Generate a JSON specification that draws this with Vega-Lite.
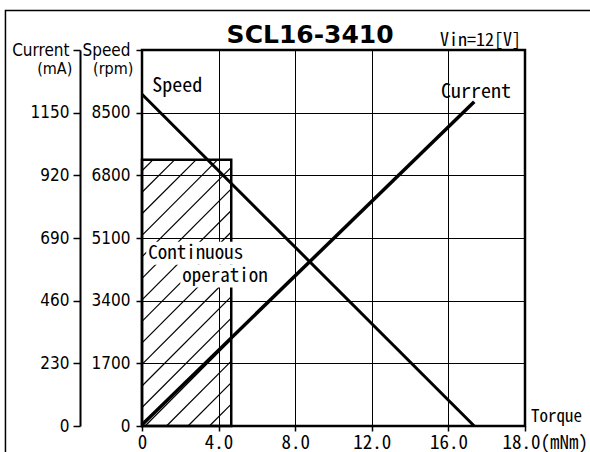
{
  "$schema": "https://vega.github.io/schema/vega-lite/v6.json",
  "width": 383,
  "height": 376,
  "autosize": {"type": "none"},
  "padding": {"left": 142, "top": 50, "right": 65, "bottom": 26},
  "background": "white",
  "config": {"view": {"stroke": "black", "strokeWidth": 2.5}},
  "encoding": {
    "x": {
      "field": "t", "type": "quantitative",
      "scale": {"domain": [0, 20], "nice": false, "zero": false},
      "axis": {
        "values": [0, 4, 8, 12, 16, 20], "title": null,
        "grid": true, "gridColor": "black", "gridWidth": 1, "gridOpacity": 1,
        "domain": false, "tickColor": "black", "tickSize": 5, "tickWidth": 1.5,
        "labelFlush": false, "labelFont": "Noto Sans Mono CJK JP, DejaVu Sans Mono, monospace",
        "labelFontSize": 19, "labelColor": "black", "labelPadding": 2,
        "labelExpr": "datum.value == 0 ? '0' : datum.value == 20 ? '18.0(mNm)' : format(datum.value, '.1f')",
        "labelAlign": {"condition": {"test": "datum.value == 20", "value": "left"}, "value": "center"},
        "labelOffset": {"condition": {"test": "datum.value == 20", "value": -23}, "value": 0}
      }
    }
  },
  "layer": [
    {
      "encoding": {
        "y": {
          "field": "s", "type": "quantitative",
          "scale": {"domain": [0, 10200], "nice": false, "zero": false},
          "axis": {
            "values": [0, 1700, 3400, 5100, 6800, 8500, 10200], "title": null,
            "grid": true, "gridColor": "black", "gridWidth": 1, "gridOpacity": 1,
            "domain": false, "tickColor": "black", "tickSize": 6, "tickWidth": 1.5,
            "labelFont": "Liberation Sans Narrow, DejaVu Sans Condensed, Liberation Sans, sans-serif",
            "labelFontSize": 17, "labelColor": "black", "labelPadding": 6, "format": "d",
            "labelExpr": "datum.value == 10200 ? 'Speed' : datum.label"
          }
        }
      },
      "layer": [
        {
          "data": {"values": [{"t": -7.13, "t2": 32, "s": -3000, "s2": 11270}]},
          "mark": {"type": "rect", "fillOpacity": 0, "stroke": "black", "strokeWidth": 1.5},
          "encoding": {"x2": {"field": "t2"}, "y2": {"field": "s2"}}
        },
        {
          "data": {"values": [
            {"t": 3.52, "s": 0, "t2": 4.66, "s2": 592},
            {"t": 2.40, "s": 0, "t2": 4.66, "s2": 1176},
            {"t": 1.28, "s": 0, "t2": 4.66, "s2": 1760},
            {"t": 0.16, "s": 0, "t2": 4.66, "s2": 2344},
            {"t": 0, "s": 502, "t2": 4.66, "s2": 2928},
            {"t": 0, "s": 1086, "t2": 4.66, "s2": 3511},
            {"t": 0, "s": 1670, "t2": 4.66, "s2": 4095},
            {"t": 0, "s": 2254, "t2": 4.66, "s2": 4679},
            {"t": 0, "s": 2838, "t2": 4.66, "s2": 5263},
            {"t": 0, "s": 3422, "t2": 4.66, "s2": 5847},
            {"t": 0, "s": 4006, "t2": 4.66, "s2": 6431},
            {"t": 0, "s": 4590, "t2": 4.66, "s2": 7015},
            {"t": 0, "s": 5173, "t2": 3.94, "s2": 7220},
            {"t": 0, "s": 5757, "t2": 2.82, "s2": 7220},
            {"t": 0, "s": 6341, "t2": 1.70, "s2": 7220},
            {"t": 0, "s": 6925, "t2": 0.57, "s2": 7220}
          ]},
          "mark": {"type": "rule", "color": "black", "strokeWidth": 1.2},
          "encoding": {"x2": {"field": "t2"}, "y2": {"field": "s2"}}
        },
        {
          "data": {"values": [{"t": 0, "t2": 4.66, "s": 0, "s2": 7220}]},
          "mark": {"type": "rect", "fillOpacity": 0, "stroke": "black", "strokeWidth": 2.5},
          "encoding": {"x2": {"field": "t2"}, "y2": {"field": "s2"}}
        },
        {
          "data": {"values": [
            {"t": 0.22, "t2": 5.86, "s": 4372, "s2": 5000},
            {"t": 2.0, "t2": 7.11, "s": 3760, "s2": 4372}
          ]},
          "mark": {"type": "rect", "fill": "white", "strokeWidth": 0},
          "encoding": {"x2": {"field": "t2"}, "y2": {"field": "s2"}}
        },
        {
          "data": {"values": [{"t": 8.78, "s": 10401, "label": "SCL16-3410"}]},
          "mark": {"type": "text", "font": "DejaVu Sans", "fontWeight": "bold", "fontSize": 25, "align": "center", "baseline": "alphabetic", "color": "black"},
          "encoding": {"text": {"field": "label"}}
        },
        {
          "data": {"values": [
            {"t": 0.54, "s": 9070, "label": "Speed"},
            {"t": 15.61, "s": 8907, "label": "Current"}
          ]},
          "mark": {"type": "text", "font": "Noto Sans Mono CJK JP, DejaVu Sans Mono, monospace", "fontSize": 20, "align": "left", "baseline": "alphabetic", "color": "black"},
          "encoding": {"text": {"field": "label"}}
        },
        {
          "data": {"values": [
            {"t": 0.33, "s": 4540, "label": "Continuous"},
            {"t": 2.10, "s": 3900, "label": "operation"}
          ]},
          "mark": {"type": "text", "font": "Noto Sans Mono CJK JP, DejaVu Sans Mono, monospace", "fontSize": 19, "align": "left", "baseline": "alphabetic", "color": "black"},
          "encoding": {"text": {"field": "label"}}
        },
        {
          "data": {"values": [{"t": 15.56, "s": 10320, "label": "Vin=12[V]"}]},
          "mark": {"type": "text", "font": "Noto Sans Mono CJK JP, DejaVu Sans Mono, monospace", "fontSize": 18, "align": "left", "baseline": "alphabetic", "color": "black"},
          "encoding": {"text": {"field": "label"}}
        },
        {
          "data": {"values": [{"t": 20.31, "s": 120, "label": "Torque"}]},
          "mark": {"type": "text", "font": "Noto Sans Mono CJK JP, DejaVu Sans Mono, monospace", "fontSize": 17, "align": "left", "baseline": "alphabetic", "color": "black"},
          "encoding": {"text": {"field": "label"}}
        },
        {
          "data": {"values": [
            {"t": -0.45, "s": 9680, "label": "(rpm)"},
            {"t": -3.64, "s": 9680, "label": "(mA)"}
          ]},
          "mark": {"type": "text", "font": "Liberation Sans Narrow, DejaVu Sans Condensed, Liberation Sans, sans-serif", "fontSize": 16, "align": "right", "baseline": "middle", "color": "black"},
          "encoding": {"text": {"field": "label"}}
        },
        {
          "data": {"values": [{"t": 0, "s": 9000}, {"t": 17.35, "s": 0}]},
          "mark": {"type": "line", "color": "black", "strokeWidth": 3}
        }
      ]
    },
    {
      "data": {"values": [{"t": 0, "c": 5}, {"t": 17.35, "c": 1190}]},
      "mark": {"type": "line", "color": "black", "strokeWidth": 3.5},
      "encoding": {
        "y": {
          "field": "c", "type": "quantitative",
          "scale": {"domain": [0, 1380], "nice": false, "zero": false},
          "axis": {
            "orient": "left", "offset": 62,
            "values": [0, 230, 460, 690, 920, 1150, 1380], "title": null, "grid": false,
            "domainColor": "black", "domainWidth": 2, "tickColor": "black", "tickSize": 7, "tickWidth": 1.5,
            "labelFont": "Liberation Sans Narrow, DejaVu Sans Condensed, Liberation Sans, sans-serif",
            "labelFontSize": 17, "labelColor": "black", "labelPadding": 4, "format": "d",
            "labelExpr": "datum.value == 1380 ? 'Current' : datum.label"
          }
        }
      }
    }
  ],
  "resolve": {"scale": {"y": "independent"}}
}
